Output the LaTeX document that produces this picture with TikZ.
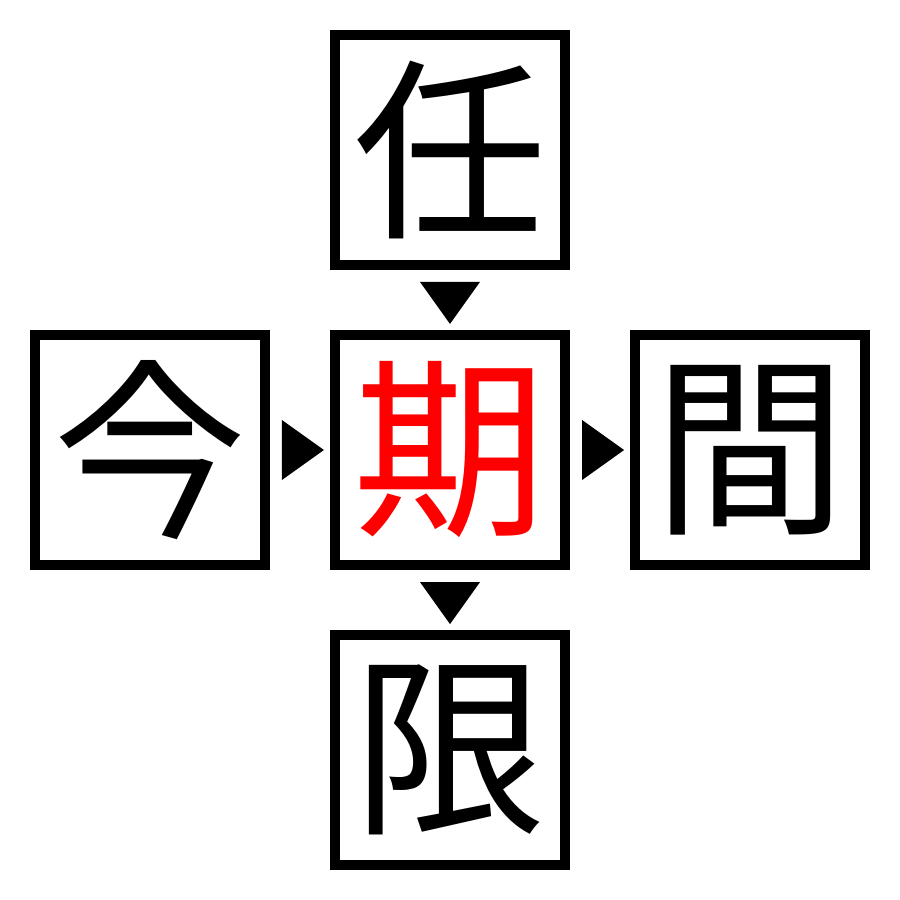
\documentclass[tikz,border=0pt]{standalone}
\usepackage{fontspec}
\newfontfamily\cjk{Noto Sans CJK JP}
\usetikzlibrary{positioning, calc}

\begin{document}
\begin{tikzpicture}[
  x=0.01cm, y=-0.01cm,
  node distance=3.0cm,
  every node/.style={draw, line width=0.1cm, rectangle, inner sep=0pt, minimum size=2.3cm, font=\cjk\fontsize{55}{55}\selectfont}
]
\useasboundingbox (0,0) rectangle (900,900);
\node (mid) [text=red] at (450,450) {期};
\node (top) [above of=mid] {任};
\node (left) [left of=mid] {今};
\node (right) [right of=mid] {間};
\node (bottom) [below of=mid] {限};

\coordinate (tm) at ($(top.south)!0.5!(mid.north)$);
\coordinate (lm) at ($(left.east)!0.5!(mid.west)$);
\coordinate (mr) at ($(mid.east)!0.5!(right.west)$);
\coordinate (mb) at ($(mid.south)!0.5!(bottom.north)$);

\fill ($(tm)+(-30,-18)$) -- ($(tm)+(30,-18)$) -- ($(tm)+(0,24)$) -- cycle;
\fill ($(lm)+(-18,-30)$) -- ($(lm)+(-18,30)$) -- ($(lm)+(24,0)$) -- cycle;
\fill ($(mr)+(-18,-30)$) -- ($(mr)+(-18,30)$) -- ($(mr)+(24,0)$) -- cycle;
\fill ($(mb)+(-30,-18)$) -- ($(mb)+(30,-18)$) -- ($(mb)+(0,24)$) -- cycle;
\end{tikzpicture}
\end{document}
